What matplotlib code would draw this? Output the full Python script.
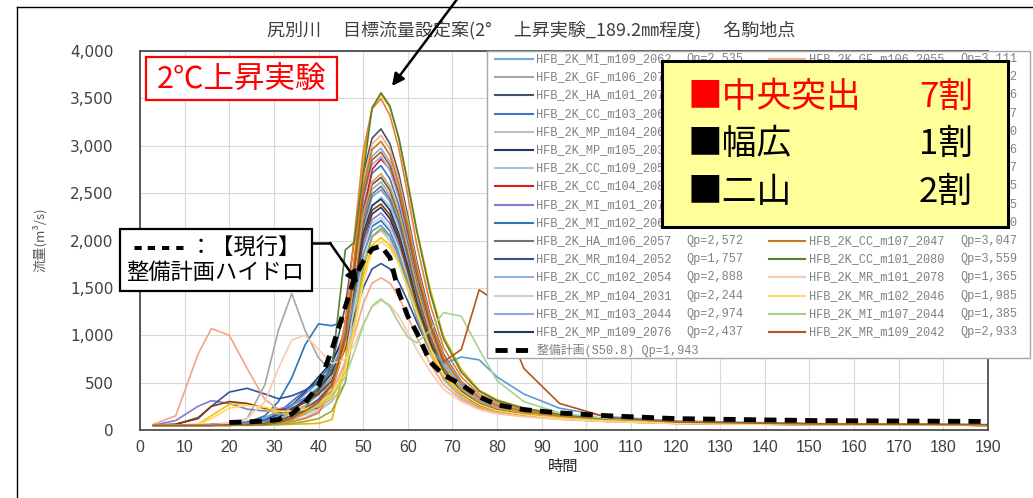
import numpy as np
import matplotlib
matplotlib.use("Agg")
import matplotlib.pyplot as plt
from matplotlib.patches import Rectangle
from matplotlib.ticker import FuncFormatter

plt.rcParams['font.family'] = ['Noto Sans CJK JP', 'DejaVu Sans']

# time axis (hours) shared by every hydrograph
hours = [3, 8, 13, 16, 20, 24, 28, 31, 34, 37, 40, 43, 46, 48, 50, 52, 54, 56, 58, 60,
         62, 65, 68, 72, 76, 80, 86, 94, 105, 120, 150, 190]

# left legend column
left_names = ["HFB_2K_MI_m109_2062", "HFB_2K_GF_m106_2073", "HFB_2K_HA_m101_2071",
              "HFB_2K_CC_m103_2066", "HFB_2K_MP_m104_2063", "HFB_2K_MP_m105_2035",
              "HFB_2K_CC_m109_2059", "HFB_2K_CC_m104_2081", "HFB_2K_MI_m101_2070",
              "HFB_2K_MI_m102_2067", "HFB_2K_HA_m106_2057", "HFB_2K_MR_m104_2052",
              "HFB_2K_CC_m102_2054", "HFB_2K_MP_m104_2031", "HFB_2K_MI_m103_2044",
              "HFB_2K_MP_m109_2076"]
left_colors = ["#6fa8dc", "#a6a6a6", "#44546a", "#4472c4", "#bfbfbf", "#203864",
               "#9dc3e6", "#e31a1c", "#7e7ed6", "#2e75b6", "#767171", "#2f5597",
               "#8fb4e3", "#d0cece", "#8eaadb", "#1f3864"]
left_flows = [
    [50, 50, 55, 60, 70, 90, 130, 200, 270, 330, 390, 480, 900, 1470, 2130, 2460, 2535, 2410, 2150, 1800, 1420, 960, 640, 410, 280, 215, 170, 130, 100, 75, 60, 50],
    [50, 50, 55, 60, 70, 120, 480, 1050, 1440, 1050, 760, 620, 900, 1520, 2200, 2540, 2618, 2480, 2220, 1860, 1470, 1000, 660, 420, 290, 225, 175, 135, 100, 78, 60, 52],
    [50, 50, 50, 55, 60, 70, 90, 130, 200, 300, 420, 700, 1300, 2000, 2700, 3080, 3178, 3020, 2700, 2260, 1780, 1210, 800, 510, 350, 270, 200, 150, 110, 80, 62, 52],
    [50, 50, 50, 55, 60, 75, 110, 180, 300, 420, 520, 700, 1050, 1620, 2340, 2710, 2791, 2650, 2370, 1980, 1560, 1060, 700, 450, 310, 240, 185, 140, 105, 78, 60, 50],
    [50, 50, 50, 50, 55, 60, 70, 90, 120, 170, 230, 330, 700, 1220, 1770, 2040, 2105, 2000, 1790, 1490, 1180, 800, 530, 340, 230, 180, 145, 115, 90, 70, 57, 50],
    [50, 50, 50, 55, 60, 70, 100, 160, 260, 400, 560, 720, 1000, 1450, 1980, 2280, 2350, 2230, 2000, 1670, 1320, 890, 590, 380, 260, 200, 160, 125, 95, 72, 58, 50],
    [50, 50, 50, 50, 50, 55, 60, 70, 90, 130, 200, 300, 500, 1230, 1970, 2360, 2459, 2360, 2140, 1820, 1480, 1030, 690, 440, 300, 220, 170, 130, 100, 75, 60, 50],
    [50, 50, 50, 50, 50, 55, 70, 100, 150, 220, 230, 420, 900, 1500, 2250, 2750, 2860, 2750, 2480, 2100, 1680, 1150, 760, 480, 330, 250, 190, 140, 105, 80, 62, 50],
    [50, 100, 250, 310, 280, 220, 200, 220, 260, 340, 450, 620, 980, 1420, 1930, 2220, 2290, 2180, 1950, 1630, 1280, 870, 570, 370, 250, 195, 155, 120, 92, 72, 58, 50],
    [50, 50, 50, 55, 60, 80, 150, 300, 550, 900, 1120, 1100, 1150, 1400, 1850, 2150, 2210, 2100, 1880, 1570, 1240, 840, 550, 360, 245, 190, 150, 118, 90, 70, 57, 50],
    [50, 50, 50, 50, 55, 65, 90, 140, 210, 300, 400, 560, 920, 1500, 2160, 2490, 2572, 2440, 2190, 1830, 1440, 980, 640, 410, 285, 220, 172, 132, 100, 76, 60, 50],
    [50, 60, 120, 250, 400, 440, 380, 330, 360, 420, 500, 640, 880, 1200, 1500, 1700, 1757, 1700, 1560, 1360, 1140, 840, 600, 420, 300, 230, 180, 138, 105, 80, 62, 52],
    [50, 50, 50, 50, 55, 60, 75, 100, 150, 230, 330, 500, 960, 1680, 2430, 2800, 2888, 2740, 2450, 2050, 1620, 1100, 720, 460, 320, 245, 190, 142, 105, 78, 60, 50],
    [50, 50, 50, 50, 50, 55, 60, 80, 110, 160, 220, 330, 740, 1300, 1880, 2180, 2244, 2130, 1910, 1590, 1260, 850, 560, 360, 250, 190, 150, 118, 90, 70, 57, 50],
    [50, 50, 50, 55, 60, 70, 90, 120, 180, 260, 370, 560, 1050, 1780, 2520, 2890, 2974, 2830, 2530, 2110, 1670, 1130, 740, 480, 330, 255, 195, 145, 108, 80, 62, 52],
    [50, 50, 50, 50, 55, 65, 90, 140, 220, 320, 430, 600, 960, 1470, 2070, 2370, 2437, 2320, 2070, 1730, 1360, 930, 610, 390, 270, 210, 165, 128, 97, 74, 59, 50],
]

# right legend column
right_names = ["HFB_2K_GF_m106_2055", "HFB_2K_CC_m105_2061", "HFB_2K_MI_m105_2072",
               "HFB_2K_HA_m104_2068", "HFB_2K_GF_m104_2065", "HFB_2K_MR_m105_2079",
               "HFB_2K_HA_m102_2077", "HFB_2K_CC_m106_2045", "HFB_2K_MP_m101_2075",
               "HFB_2K_MI_m106_2050", "HFB_2K_CC_m107_2047", "HFB_2K_CC_m101_2080",
               "HFB_2K_MR_m101_2078", "HFB_2K_MR_m102_2046", "HFB_2K_MI_m107_2044",
               "HFB_2K_MR_m109_2042"]
right_colors = ["#f4b183", "#e6b800", "#ed7d31", "#9aab3a", "#ffc000", "#f4a582",
                "#595959", "#843c0c", "#d9a441", "#5b9bd5", "#c9781e", "#548235",
                "#f8cbad", "#ffd966", "#a9d18e", "#b4561b"]
right_flows = [
    [50, 50, 50, 50, 50, 55, 65, 85, 130, 200, 300, 480, 1000, 1800, 2620, 3020, 3111, 2960, 2640, 2210, 1740, 1180, 780, 500, 340, 265, 200, 150, 110, 82, 63, 52],
    [50, 50, 50, 50, 50, 50, 50, 55, 60, 65, 70, 110, 700, 1770, 2830, 3400, 3542, 3400, 3080, 2620, 2120, 1490, 990, 640, 420, 320, 230, 165, 118, 85, 65, 55],
    [50, 50, 50, 50, 50, 55, 60, 70, 90, 120, 180, 420, 1150, 2030, 2940, 3390, 3496, 3320, 2970, 2480, 1960, 1330, 870, 560, 380, 295, 215, 158, 114, 84, 64, 54],
    [50, 50, 50, 50, 50, 50, 55, 60, 70, 90, 120, 200, 500, 1100, 1700, 2040, 2127, 2040, 1850, 1570, 1280, 890, 600, 390, 260, 200, 155, 120, 92, 72, 58, 50],
    [50, 50, 60, 150, 270, 280, 220, 170, 170, 200, 250, 330, 620, 1100, 1620, 1950, 2030, 1950, 1760, 1490, 1200, 830, 560, 370, 255, 195, 155, 120, 92, 72, 58, 50],
    [60, 150, 800, 1070, 1000, 650, 320, 220, 200, 240, 300, 420, 700, 1000, 1330, 1550, 1606, 1550, 1400, 1200, 980, 700, 480, 320, 230, 180, 145, 115, 90, 70, 57, 50],
    [50, 50, 50, 50, 55, 60, 75, 100, 150, 220, 320, 480, 950, 1560, 2250, 2590, 2667, 2530, 2270, 1890, 1490, 1010, 670, 430, 295, 228, 178, 135, 102, 77, 60, 50],
    [50, 60, 130, 250, 300, 280, 230, 210, 230, 290, 380, 520, 860, 1390, 2010, 2320, 2385, 2270, 2030, 1690, 1340, 910, 600, 385, 265, 205, 160, 125, 95, 73, 58, 50],
    [50, 50, 50, 50, 50, 55, 60, 75, 110, 170, 260, 420, 900, 1570, 2270, 2620, 2705, 2570, 2300, 1920, 1510, 1030, 680, 430, 300, 230, 180, 137, 103, 78, 60, 50],
    [50, 50, 50, 50, 55, 65, 90, 150, 250, 380, 500, 650, 950, 1380, 1850, 2100, 2160, 2050, 1830, 1520, 1200, 850, 700, 770, 740, 560, 380, 230, 140, 95, 68, 55],
    [50, 50, 50, 50, 50, 55, 60, 80, 120, 190, 290, 480, 1020, 1770, 2560, 2960, 3047, 2900, 2590, 2160, 1710, 1160, 760, 490, 335, 260, 198, 148, 110, 82, 63, 52],
    [50, 50, 50, 50, 50, 55, 60, 80, 120, 220, 450, 650, 1900, 1980, 2700, 3400, 3559, 3420, 3080, 2600, 2100, 1450, 960, 610, 410, 310, 230, 165, 118, 85, 65, 55],
    [50, 50, 50, 55, 70, 120, 300, 650, 950, 1000, 850, 700, 750, 900, 1120, 1300, 1365, 1320, 1200, 1030, 850, 620, 430, 300, 215, 170, 140, 112, 88, 68, 56, 50],
    [50, 50, 60, 120, 230, 260, 240, 200, 190, 220, 280, 380, 650, 1050, 1550, 1900, 1985, 1920, 1750, 1500, 1230, 870, 590, 390, 270, 205, 160, 124, 94, 72, 58, 50],
    [50, 50, 50, 50, 55, 60, 70, 90, 130, 190, 260, 360, 560, 820, 1100, 1310, 1385, 1300, 1130, 980, 920, 1050, 1240, 1200, 850, 520, 300, 180, 120, 85, 65, 55],
    [50, 50, 50, 50, 55, 60, 70, 90, 130, 200, 290, 470, 980, 1700, 2460, 2850, 2933, 2790, 2490, 2080, 1640, 1110, 720, 850, 1480, 1350, 650, 280, 130, 85, 65, 55],
]

# current plan hydrograph (dashed)
plan_name = "整備計画(S50.8)"
plan_flow = [None, None, None, None, 80, 85, 95, 110, 170, 290, 470, 850, 1300, 1600, 1780, 1910, 1943, 1820, 1450, 1200, 1030, 720, 580, 480, 350, 265, 215, 180, 150, 120, 100, 90]

title = "尻別川　 目標流量設定案(2°　 上昇実験_189.2㎜程度)　 名駒地点"
share_labels = [("■中央突出", "7割", "red"), ("■幅広", "1割", "black"), ("■二山", "2割", "black")]

W, H = 1033, 498


def main():
    fig = plt.figure(figsize=(W / 100, H / 100), dpi=100)
    ax = fig.add_axes([140 / W, 1 - 430 / H, 848 / W, 379 / H])

    for vals, color in zip(left_flows + right_flows, left_colors + right_colors):
        ax.plot(hours, np.array(vals, dtype=float), color=color, lw=1.2)
    plan = np.array(plan_flow, dtype=float)
    ax.plot(hours, plan, color='black', lw=3.5, dashes=(2.5, 1.7), zorder=5)

    ax.set_xlim(0, 190)
    ax.set_ylim(0, 4000)
    ax.set_xticks(range(0, 191, 10))
    ax.set_yticks(range(0, 4001, 500))
    ax.yaxis.set_major_formatter(FuncFormatter(lambda v, p: f"{int(v):,}"))
    ax.grid(color='#d9d9d9', lw=0.8)
    ax.set_axisbelow(True)
    ax.tick_params(length=0, colors='#404040')
    ax.tick_params(axis='x', pad=7, labelsize=11.5, labelfontfamily='Liberation Sans')
    ax.tick_params(axis='y', pad=19, labelsize=11, labelfontfamily='DejaVu Sans')
    for s in ax.spines.values():
        s.set_color('#404040')
        s.set_linewidth(1.2)

    # overlay in pixel coordinates for the annotations and legend
    ov = fig.add_axes([0, 0, 1, 1])
    ov.set_xlim(0, W)
    ov.set_ylim(H, 0)
    ov.axis('off')
    ov.set_zorder(10)

    ov.plot([17, 17], [7, H], color='black', lw=1)
    ov.plot([17, W], [7, 7], color='black', lw=1)

    ov.text(531, 30, title, ha='center', va='center', fontsize=13, color='#404040')
    ov.text(40, 240, "流量(m³/s)", rotation=90, ha='center', va='center',
            fontsize=9.5, color='#595959')
    ov.text(563, 466, "時間", ha='center', va='center', fontsize=11, color='#262626')

    # legend
    ov.add_patch(Rectangle((487, 51), 543, 307, fc='white', ec='#a6a6a6', lw=1, zorder=2))
    mono = dict(fontsize=8.6, family='Liberation Mono', color='#808080', va='center',
                zorder=4)
    columns = [(left_names, left_flows, left_colors, 495, 533, 536, 686),
               (right_names, right_flows, right_colors, 769, 805, 809, 960)]
    for names, flows, colors, x0, x1, xt, xq in columns:
        for i, (name, vals, color) in enumerate(zip(names, flows, colors)):
            y = 59 + 18.2 * i
            ov.plot([x0, x1], [y, y], color=color, lw=1.5, zorder=3)
            ov.text(xt, y, name, **mono)
            ov.text(xq, y, f"Qp={int(max(vals)):,}", **mono)
    ov.plot([495, 533], [350, 350], color='black', lw=3.5, dashes=(2.5, 1.7), zorder=3)
    ov.text(537, 350, f"{plan_name} Qp={int(np.nanmax(plan)):,}", fontsize=8.6,
            family=['Liberation Mono', 'Noto Sans CJK JP'], color='#808080',
            va='center', zorder=4)

    # share box on top of the legend
    ov.add_patch(Rectangle((662, 61), 346, 166, fc='#ffff99', ec='black', lw=2.2, zorder=30))
    for i, (label, share, color) in enumerate(share_labels):
        y = 97 + 47.5 * i
        ov.text(688, y, label, color=color, fontsize=25, va='center', zorder=31)
        ov.text(973, y, share, color=color, fontsize=25, va='center', ha='right', zorder=31)

    # experiment label
    ov.add_patch(Rectangle((146, 57), 191, 43, fc='white', ec='red', lw=1.6, zorder=5))
    ov.text(241, 79, "2℃上昇実験", color='red', fontsize=22, ha='center', va='center',
            zorder=6)

    # current plan note
    ov.add_patch(Rectangle((120, 229), 192, 62, fc='white', ec='black', lw=1.6, zorder=5))
    ov.text(130, 248, "----", family='DejaVu Sans Mono', fontweight='bold',
            fontsize=17, va='center', zorder=6)
    ov.text(190, 248, "：【現行】", fontsize=16, va='center', zorder=6)
    ov.text(126, 272, "整備計画ハイドロ", fontsize=16, va='center', zorder=6)
    ov.plot([312, 330], [243, 243], color='black', lw=1.8, zorder=6)
    arrow = dict(arrowstyle='-|>', color='black', lw=1.8, mutation_scale=18,
                 shrinkA=0, shrinkB=0)
    ov.annotate('', xy=(358, 283), xytext=(330, 243), arrowprops=arrow, zorder=6)
    ov.annotate('', xy=(392, 86), xytext=(458, -2), arrowprops=arrow, zorder=6)

    fig.savefig('out.png', dpi=100)


if __name__ == "__main__":
    main()
